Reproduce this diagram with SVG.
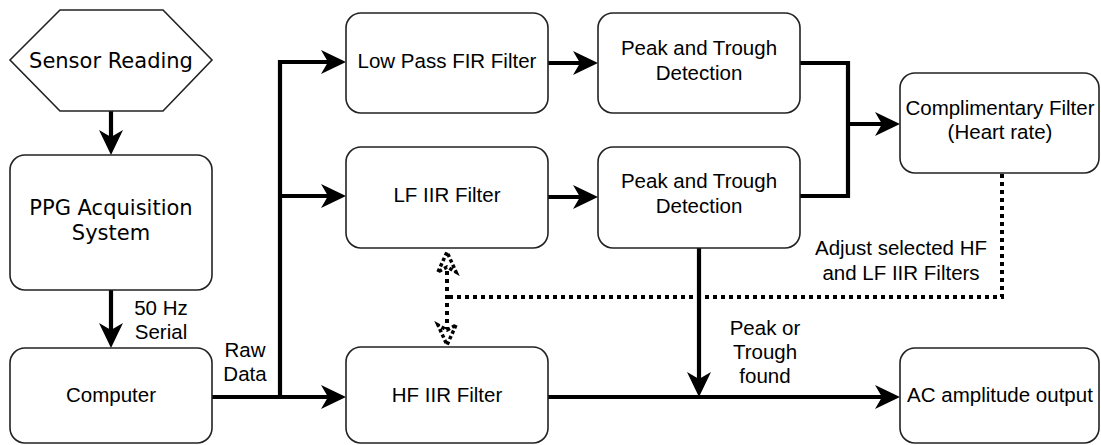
<svg xmlns="http://www.w3.org/2000/svg" width="1101" height="445" viewBox="0 0 1101 445">
<style>
.box{fill:#fff;stroke:#222;stroke-width:1.6}
.t{font-family:"Liberation Sans",Arial,sans-serif;font-size:20.5px;fill:#000;text-anchor:middle}
.v{font-family:"DejaVu Sans",Verdana,sans-serif;font-size:21px;fill:#000;text-anchor:middle}
.c{fill:none;stroke:#000;stroke-width:4.2}
.d{fill:none;stroke:#000;stroke-width:4;stroke-dasharray:4 4}
</style>
<defs>
<marker id="ar" markerUnits="userSpaceOnUse" viewBox="0 0 25 24" refX="12" refY="12" markerWidth="25" markerHeight="24" orient="auto">
<path d="M0,0 L25,12 L0,24 L7,12 Z" fill="#000"/>
</marker>
<marker id="oa" markerUnits="userSpaceOnUse" viewBox="-3 -3 28 26" refX="10" refY="10" markerWidth="28" markerHeight="26" orient="auto-start-reverse">
<path d="M1,1 L21,10 L1,19 L6,10 Z" fill="#fff" stroke="#000" stroke-width="3.5" stroke-dasharray="3.5 2.5"/>
</marker>
</defs>
<rect width="1101" height="445" fill="#fff"/>
<g id="connectors">
<path class="c" d="M111,111 L111,142" marker-end="url(#ar)"/>
<path class="c" d="M111,290 L111,335" marker-end="url(#ar)"/>
<path class="c" d="M212,397 L333,397" marker-end="url(#ar)"/>
<path class="c" d="M280,397 L280,62 L333,62" marker-end="url(#ar)"/>
<path class="c" d="M280,196 L333,196" marker-end="url(#ar)"/>
<path class="c" d="M548,63 L585,63" marker-end="url(#ar)"/>
<path class="c" d="M548,197 L585,197" marker-end="url(#ar)"/>
<path class="c" d="M800,63 L848,63 L848,196 L800,196"/>
<path class="c" d="M848,124 L887,124" marker-end="url(#ar)"/>
<path class="d" d="M1002,174 L1002,297 L447,297"/>
<path class="d" d="M447,263 L447,334" marker-start="url(#oa)" marker-end="url(#oa)"/>
<path class="c" d="M699,248 L699,384" marker-end="url(#ar)"/>
<path class="c" d="M548,397 L887,397" marker-end="url(#ar)"/>
</g>
<g id="sensor">
<polygon class="box" points="10,60 60,10 163,10 212,60 163,111 60,111"/>
<text class="v" x="111" y="68">Sensor Reading</text>
</g>
<g id="ppg">
<rect class="box" x="10" y="155" width="202" height="135" rx="15"/>
<text class="v" x="111" y="215">PPG Acquisition</text>
<text class="v" x="111" y="240">System</text>
</g>
<g id="computer">
<rect class="box" x="10" y="348" width="202" height="95" rx="15"/>
<text class="t" x="111" y="402">Computer</text>
</g>
<g id="lowpass">
<rect class="box" x="346" y="13" width="202" height="100" rx="15"/>
<text class="t" x="447" y="68">Low Pass FIR Filter</text>
</g>
<g id="lfiir">
<rect class="box" x="346" y="147" width="202" height="101" rx="15"/>
<text class="t" x="447" y="202">LF IIR Filter</text>
</g>
<g id="hfiir">
<rect class="box" x="346" y="347" width="202" height="96" rx="15"/>
<text class="t" x="447" y="402">HF IIR Filter</text>
</g>
<g id="peak1">
<rect class="box" x="598" y="13" width="202" height="100" rx="15"/>
<text class="t" x="699" y="55">Peak and Trough</text>
<text class="t" x="699" y="80">Detection</text>
</g>
<g id="peak2">
<rect class="box" x="598" y="147" width="202" height="101" rx="15"/>
<text class="t" x="699" y="188">Peak and Trough</text>
<text class="t" x="699" y="213">Detection</text>
</g>
<g id="complimentary">
<rect class="box" x="900" y="73" width="199" height="100" rx="15"/>
<text class="t" x="1000" y="115">Complimentary Filter</text>
<text class="t" x="1000" y="139">(Heart rate)</text>
</g>
<g id="acoutput">
<rect class="box" x="900" y="348" width="199" height="95" rx="15"/>
<text class="t" x="1000" y="402">AC amplitude output</text>
</g>
<g id="labels">
<text class="t" x="161" y="315">50 Hz</text>
<text class="t" x="161" y="339">Serial</text>
<text class="t" x="245" y="357">Raw</text>
<text class="t" x="245" y="381">Data</text>
<text class="t" x="901" y="255">Adjust selected HF</text>
<text class="t" x="901" y="280">and LF IIR Filters</text>
<text class="t" x="765" y="335">Peak or</text>
<text class="t" x="765" y="359">Trough</text>
<text class="t" x="765" y="383">found</text>
</g>
</svg>
